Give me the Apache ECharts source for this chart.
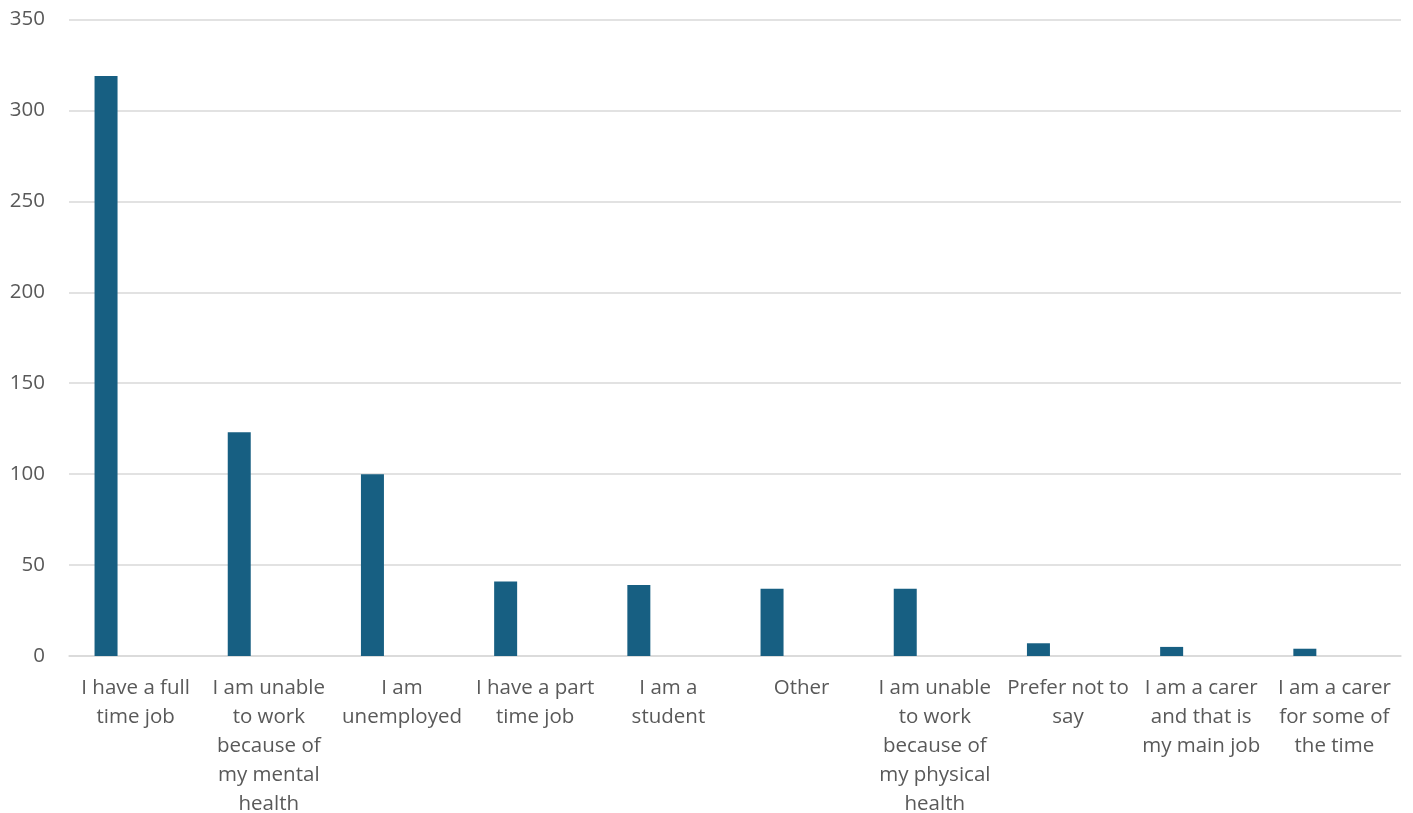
<!DOCTYPE html>
<html>
<head>
<meta charset="utf-8">
<style>
  html, body { margin: 0; padding: 0; background: #ffffff; }
  #chart { width: 1413px; height: 813px; }
</style>
<script src="https://cdn.jsdelivr.net/npm/echarts@6/dist/echarts.min.js"></script>
</head>
<body>
<div id="chart"></div>
<script>
// Employment status of respondents
const categories = [
  'I have a full\ntime job',
  'I am unable\nto work\nbecause of\nmy mental\nhealth',
  'I am\nunemployed',
  'I have a part\ntime job',
  'I am a\nstudent',
  'Other',
  'I am unable\nto work\nbecause of\nmy physical\nhealth',
  'Prefer not to\nsay',
  'I am a carer\nand that is\nmy main job',
  'I am a carer\nfor some of\nthe time'
];
const counts = [319, 123, 100, 41, 39, 37, 37, 7, 5, 4];
// second series is empty; it reserves the right-hand slot in each category
const emptySlot = categories.map(() => null);
const yTicks = { min: 0, max: 350, interval: 50 };

const textColor = '#595959';
const fontFamily = '"Open Sans", "Liberation Sans", sans-serif';

const chart = echarts.init(document.getElementById('chart'), null, { renderer: 'canvas' });
chart.setOption({
  animation: false,
  backgroundColor: '#ffffff',
  grid: {
    left: 69, right: 12, top: 19.5, bottom: 157,
    containLabel: false,
    outerBoundsMode: 'none'
  },
  xAxis: {
    type: 'category',
    data: categories,
    axisLine: { show: true, lineStyle: { color: '#d9d9d9', width: 1.5 } },
    axisTick: { show: false },
    axisLabel: {
      interval: 0,
      color: textColor,
      fontFamily: fontFamily,
      fontSize: 20.5,
      lineHeight: 29,
      margin: 18,
      align: 'center'
    }
  },
  yAxis: {
    type: 'value',
    min: yTicks.min,
    max: yTicks.max,
    interval: yTicks.interval,
    axisLine: { show: false },
    axisTick: { show: false },
    splitLine: { lineStyle: { color: '#d9d9d9', width: 1.5 } },
    axisLabel: {
      color: textColor,
      fontFamily: fontFamily,
      fontSize: 20.5,
      margin: 24
    }
  },
  series: [
    {
      type: 'bar',
      data: counts,
      barWidth: 23,
      barGap: '157%',
      itemStyle: { color: '#175f82' }
    },
    {
      type: 'bar',
      data: emptySlot,
      barWidth: 23,
      itemStyle: { color: '#175f82' }
    }
  ]
});
</script>
</body>
</html>
